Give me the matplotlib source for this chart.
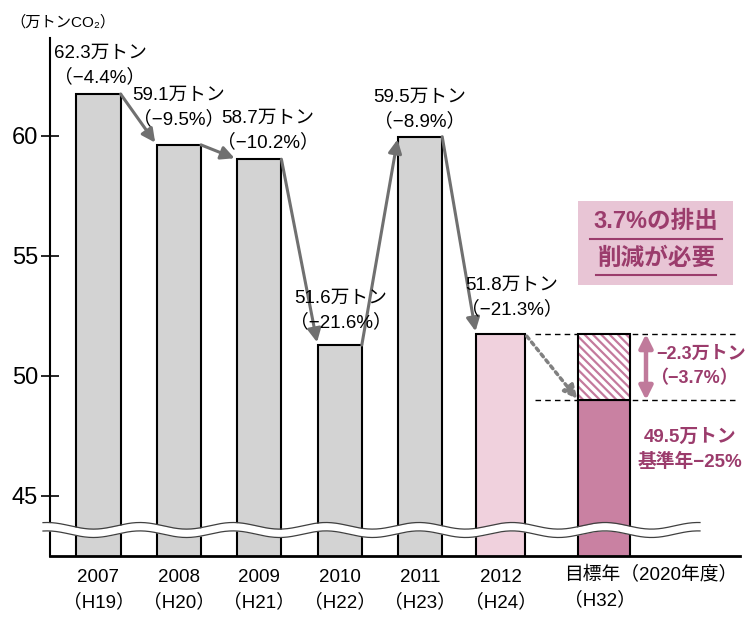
import matplotlib
matplotlib.use("Agg")
import matplotlib.pyplot as plt
import numpy as np
from matplotlib.patches import Rectangle

plt.rcParams['font.family'] = ['Liberation Sans', 'Noto Sans CJK JP', 'DejaVu Sans']
plt.rcParams['hatch.linewidth'] = 1.6

# ---- data ----
years = ["2007", "2008", "2009", "2010", "2011", "2012"]
heisei = ["H19", "H20", "H21", "H22", "H23", "H24"]
bar_values = [61.75, 59.63, 59.03, 51.29, 59.97, 51.75]      # drawn heights
label_values = [62.3, 59.1, 58.7, 51.6, 59.5, 51.8]         # printed values
label_pcts = [-4.4, -9.5, -10.2, -21.6, -8.9, -21.3]
target_value = 49.0
target_label_value = 49.5
reduction_value = -2.3
reduction_pct = -3.7
yticks = [45, 50, 55, 60]

# ---- styling / layout ----
W, H = 747, 619
fig = plt.figure(figsize=(W / 100, H / 100), dpi=100)
ax_l, ax_r, ax_t, ax_b = 50, 740, 38, 556
ax = fig.add_axes([ax_l / W, (H - ax_b) / H, (ax_r - ax_l) / W, (ax_b - ax_t) / H])

x0_px, dx_px = 98.5, 80.4
y60_px, dy_px = 136, 24.0
def px2x(p):
    return (p - x0_px) / dx_px
def px2y(p):
    return 60 - (p - y60_px) / dy_px

ax.set_xlim(px2x(ax_l), px2x(ax_r))
ax.set_ylim(px2y(ax_b), px2y(ax_t))

gray = '#d3d3d3'
pink_light = '#f0d1dd'
mauve = '#c981a2'
text_mauve = '#9b3c6c'
arrow_gray = '#707070'

positions = [0, 1, 2, 3, 4, 5]
widths = [0.55, 0.55, 0.55, 0.55, 0.55, 0.61]
colors = [gray] * 5 + [pink_light]
target_pos = 6.29
target_w = 0.65

ax.bar(positions, bar_values, width=widths, color=colors, edgecolor='black', linewidth=1.5, zorder=2)
ax.bar([target_pos], [target_value], width=target_w, color=mauve, edgecolor='black', linewidth=1.5, zorder=2)
# hatched reduction part
ax.bar([target_pos], [bar_values[-1] - target_value], bottom=target_value, width=target_w,
       color='white', edgecolor='#c47a9d', hatch='\\\\\\\\', linewidth=0, zorder=2)
ax.bar([target_pos], [bar_values[-1] - target_value], bottom=target_value, width=target_w,
       color='none', edgecolor='black', linewidth=1.5, zorder=3)

# spines & ticks
for s in ['top', 'right']:
    ax.spines[s].set_visible(False)
ax.spines['left'].set_linewidth(1.5)
ax.spines['bottom'].set_linewidth(2)
ax.set_yticks(yticks)
ax.set_yticklabels([str(v) for v in yticks])
ax.tick_params(axis='y', direction='inout', length=13, width=1.2, labelsize=17, pad=2)

ax.set_xticks(positions)
ax.set_xticklabels([f"{y}\n（{h}）" for y, h in zip(years, heisei)], fontsize=13.5, linespacing=1.55)
ax.tick_params(axis='x', length=0, pad=9)
ax.text(px2x(564), px2y(566), "目標年（2020年度）\n（H32）", ha='left', va='top', fontsize=13.5,
        linespacing=1.55)

# y unit label
fig.text(10 / W, 1 - 22 / H, "（万トンCO₂）", ha='left', va='center', fontsize=11)

# value labels
label_px = [(100, 53), (179, 95), (268, 118), (341, 298), (420, 97), (512, 285)]
for (lx, ly), v, p in zip(label_px, label_values, label_pcts):
    ax.text(px2x(lx), px2y(ly), f"{v}万トン", ha='center', va='center', fontsize=13.5, zorder=5)
    ax.text(px2x(lx), px2y(ly + 24), f"（−{abs(p)}%）", ha='center', va='center', fontsize=13.5, zorder=5)

# arrows between bars
for i in range(len(positions) - 1):
    xs = positions[i] + widths[i] / 2
    xe = positions[i + 1] - widths[i + 1] / 2
    ax.annotate("", xy=(xe, bar_values[i + 1]), xytext=(xs, bar_values[i]),
                arrowprops=dict(arrowstyle='-|>', color=arrow_gray, lw=2.2, mutation_scale=20,
                                shrinkA=0, shrinkB=2), zorder=4)
# dotted arrow to target
ax.annotate("", xy=(target_pos - target_w / 2, target_value),
            xytext=(positions[-1] + widths[-1] / 2, bar_values[-1]),
            arrowprops=dict(arrowstyle='-|>', color='#808080', lw=2.5, linestyle=(0, (1, 1.2)),
                            mutation_scale=20, shrinkA=2, shrinkB=1), zorder=4)

# dashed reference lines
for yv in [bar_values[-1], target_value]:
    ax.plot([px2x(535), px2x(737)], [yv, yv], color='black', lw=1, linestyle=(0, (4, 3)), zorder=1)

# double arrow
ax.annotate("", xy=(px2x(646), target_value), xytext=(px2x(646), bar_values[-1]),
            arrowprops=dict(arrowstyle='<|-|>', color='#c07a9b', lw=3.2, mutation_scale=20,
                            shrinkA=0, shrinkB=0), zorder=4)
ax.text(px2x(656), px2y(354), f"−{abs(reduction_value)}万トン", ha='left', va='center',
        fontsize=13, color=text_mauve, fontweight='bold', zorder=6)
ax.text(px2x(694), px2y(379), f"（−{abs(reduction_pct)}%）", ha='center', va='center',
        fontsize=13, color=text_mauve, fontweight='bold', zorder=6)
ax.text(px2x(690), px2y(437), f"{target_label_value}万トン", ha='center', va='center',
        fontsize=13.5, color=text_mauve, fontweight='bold')
ax.text(px2x(690), px2y(462), "基準年−25%", ha='center', va='center',
        fontsize=13.5, color=text_mauve, fontweight='bold')

# callout box
bx0, bx1, by0, by1 = 578, 733, 201, 285
ax.add_patch(Rectangle((px2x(bx0), px2y(by1)), px2x(bx1) - px2x(bx0), px2y(by0) - px2y(by1),
                       facecolor='#e8c5d5', edgecolor='none', zorder=1))
ax.text(px2x(656), px2y(222), f"{abs(reduction_pct)}%の排出", ha='center', va='center',
        fontsize=17, color=text_mauve, fontweight='bold', zorder=5)
ax.text(px2x(656), px2y(258), "削減が必要", ha='center', va='center',
        fontsize=17, color=text_mauve, fontweight='bold', zorder=5)
ax.plot([px2x(590), px2x(722)], [px2y(239), px2y(239)], color=text_mauve, lw=1.5, zorder=5)
ax.plot([px2x(596), px2x(716)], [px2y(275), px2y(275)], color=text_mauve, lw=1.5, zorder=5)

# axis break wave
xw = np.linspace(px2x(43), px2x(700), 600)
period = 93 / dx_px
peak = px2x(140)
amp = 3.3 / dy_px
half = 4.2 / dy_px
yc = px2y(530)
wave = yc + amp * np.cos(2 * np.pi * (xw - peak) / period)
ax.fill_between(xw, wave - half, wave + half, color='white', zorder=6, clip_on=False, linewidth=0)
ax.plot(xw, wave + half, color='#404040', lw=0.9, zorder=7, clip_on=False)
ax.plot(xw, wave - half, color='#404040', lw=0.9, zorder=7, clip_on=False)

fig.savefig("out.png", dpi=100)
